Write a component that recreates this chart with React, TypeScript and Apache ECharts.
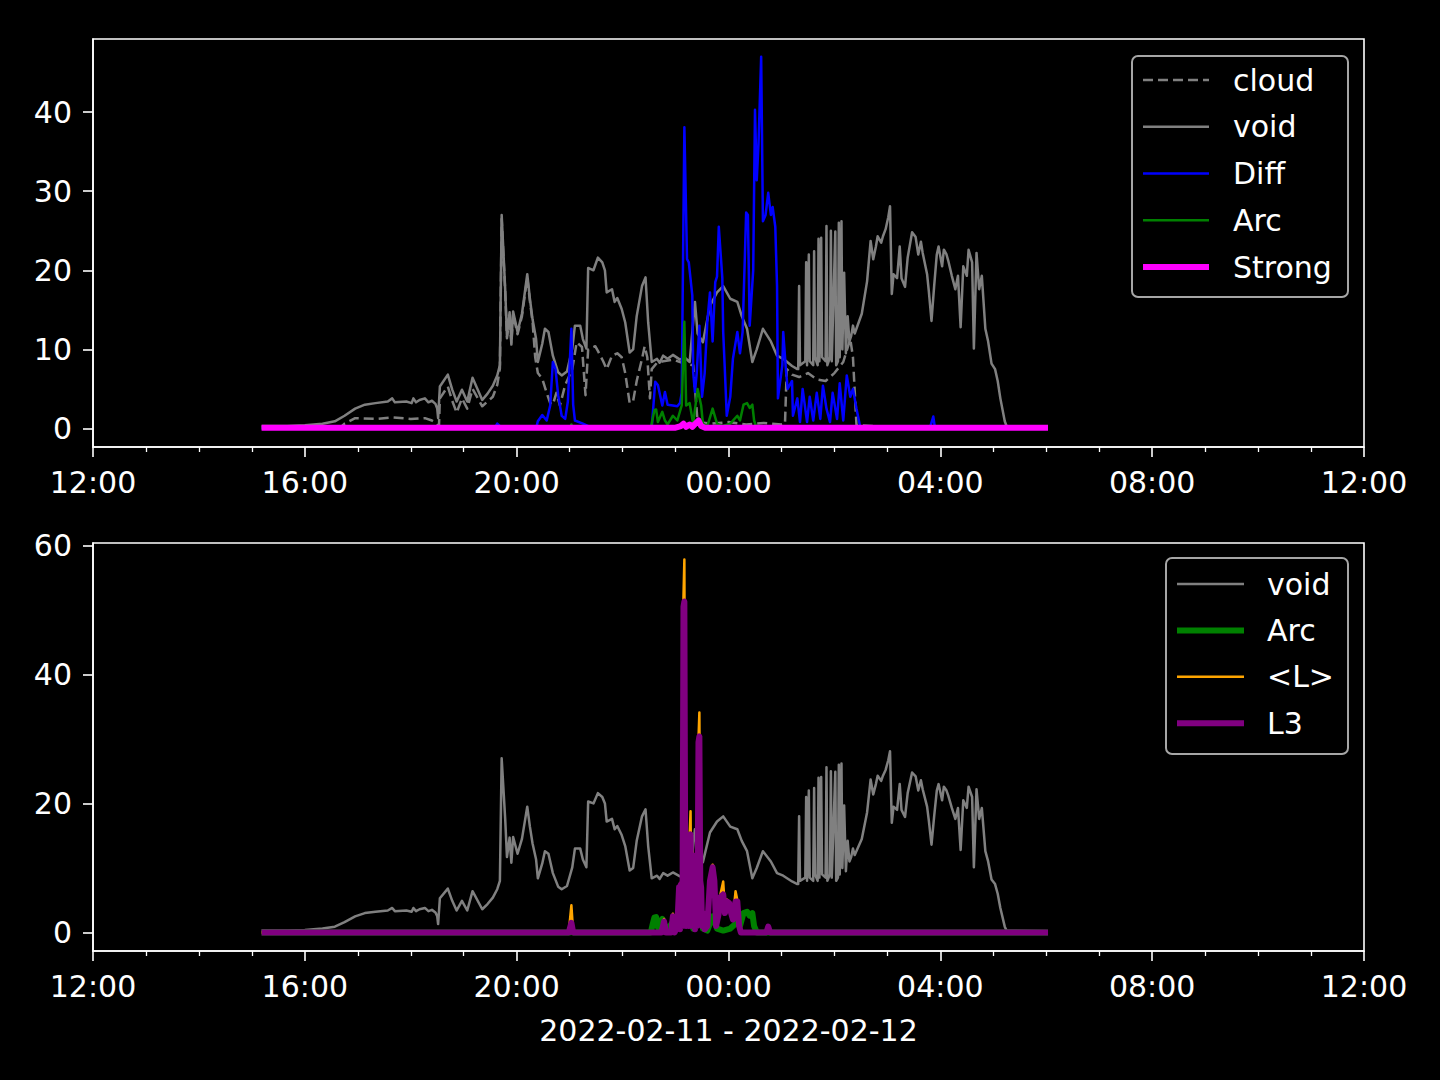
import React, { useEffect, useRef } from "react";
import * as echarts from "echarts";

// ---- data (clock times from 12:00 on 2022-02-11 to 12:00 on 2022-02-12) ----
const xTickLabels = ["12:00", "16:00", "20:00", "00:00", "04:00", "08:00", "12:00"];
const topYTicks = [0, 10, 20, 30, 40];
const bottomYTicks = [0, 20, 40, 60];
const xAxisTitle = "2022-02-11 - 2022-02-12";

type Pt = [string, number];

const voidData: Pt[] = [
  ["15:11",0.3],["15:40",0.3],["16:00",0.4],["16:20",0.6],["16:34",0.9],["16:45",1.6],["16:57",2.5],["17:08",3.0],
  ["17:20",3.2],["17:34",3.4],["17:39",3.8],["17:42",3.3],["17:55",3.4],["18:01",3.2],["18:03",3.8],["18:06",3.3],
  ["18:10",3.6],["18:16",3.8],["18:20",3.3],["18:24",3.5],["18:28",3.1],["18:30",2.5],["18:31",1.3],["18:33",5.3],
  ["18:42",6.8],["18:47",4.9],["18:52",3.4],["18:58",4.9],["19:04",3.4],["19:10",6.4],["19:21",3.6],["19:27",4.4],
  ["19:33",5.4],["19:38",6.7],["19:41",8.0],["19:43",27.0],["19:47",17.6],["19:49",11.7],["19:52",14.7],["19:54",10.8],
  ["19:56",14.8],["20:01",12.2],["20:06",14.5],["20:12",19.5],["20:15",16.4],["20:18",13.8],["20:22",11.3],["20:24",8.4],
  ["20:29",10.7],["20:32",12.6],["20:36",12.2],["20:41",9.2],["20:47",7.1],["20:51",6.7],["20:57",7.2],["21:03",10.1],
  ["21:06",13.0],["21:12",13.0],["21:15",11.3],["21:19",10.1],["21:21",20.3],["21:27",20.0],["21:32",21.6],["21:37",21.0],
  ["21:40",20.0],["21:42",17.2],["21:48",17.6],["21:51",16.0],["21:54",16.5],["21:59",15.1],["22:03",13.4],["22:08",9.6],
  ["22:12",10.0],["22:16",14.2],["22:22",18.0],["22:26",19.1],["22:29",13.4],["22:33",8.4],["22:39",8.8],["22:42",8.3],
  ["22:46",9.2],["22:51",8.8],["22:57",9.3],["23:05",8.7],["23:10",9.0],["23:16",8.4],["23:22",16.0],["23:25",12.0],
  ["23:31",10.9],["23:39",15.5],["23:47",17.2],["23:54",18.0],["00:02",16.4],["00:10",16.0],["00:15",14.2],["00:21",12.6],
  ["00:27",8.4],["00:32",10.0],["00:39",12.6],["00:48",11.0],["00:55",9.2],["01:02",8.8],["01:12",7.9],["01:18",7.5],
  ["01:19",7.5],["01:20",18.0],["01:21",8.0],["01:27",8.5],["01:28",21.0],["01:29",8.0],["01:31",22.0],["01:32",8.5],
  ["01:36",8.0],["01:37",22.4],["01:38",9.0],["01:41",8.0],["01:42",24.0],["01:43",8.5],["01:45",24.1],["01:46",9.0],
  ["01:50",8.5],["01:51",25.6],["01:52",8.0],["01:55",9.0],["01:56",25.0],["01:57",8.5],["02:01",24.9],["02:02",8.0],
  ["02:04",8.5],["02:05",26.0],["02:06",9.0],["02:08",26.2],["02:09",10.0],["02:11",19.7],["02:13",9.5],["02:15",14.2],
  ["02:17",11.0],["02:19",11.7],["02:21",13.0],["02:23",12.0],["02:31",14.5],["02:37",18.6],["02:41",23.7],["02:44",21.4],
  ["02:47",23.0],["02:49",24.3],["02:53",23.5],["02:55",24.3],["02:58",25.2],["03:01",26.7],["03:03",28.1],["03:05",17.0],
  ["03:07",19.5],["03:11",19.0],["03:14",23.0],["03:16",19.0],["03:20",17.9],["03:23",21.6],["03:28",24.8],["03:32",24.2],
  ["03:35",22.0],["03:38",23.6],["03:40",22.2],["03:45",19.5],["03:47",17.3],["03:50",13.6],["03:53",18.0],["03:56",22.0],
  ["03:58",23.0],["04:02",20.5],["04:04",22.6],["04:07",22.0],["04:09",21.2],["04:13",19.3],["04:17",17.6],["04:20",19.3],
  ["04:23",12.8],["04:26",20.5],["04:30",19.3],["04:32",22.6],["04:36",21.0],["04:38",10.1],["04:41",22.2],["04:44",17.6],
  ["04:47",19.3],["04:51",12.6],["04:54",11.1],["04:58",8.2],["05:02",7.5],["05:05",6.0],["05:08",3.8],["05:13",0.9],
  ["05:15",0.3],["06:02",0.2],
];

const cloudData: Pt[] = [
  ["15:11",0.1],["16:40",0.1],["16:45",0.6],["16:57",1.3],["17:20",1.2],["17:40",1.4],["18:00",1.2],["18:16",1.3],
  ["18:24",1.0],["18:30",0.6],["18:32",0.3],["18:33",3.8],["18:42",5.3],["18:47",3.5],["18:52",2.0],["18:58",3.8],
  ["19:04",2.5],["19:10",5.0],["19:21",2.8],["19:33",4.0],["19:38",5.5],["19:41",7.6],["19:43",26.5],["19:47",17.3],
  ["19:49",11.4],["19:52",14.3],["19:54",10.6],["19:56",14.5],["20:01",11.9],["20:06",14.2],["20:12",19.1],["20:15",16.1],
  ["20:18",13.5],["20:21",9.0],["20:24",7.0],["20:29",6.3],["20:34",4.5],["20:38",3.2],["20:41",3.0],["20:45",4.5],
  ["20:49",2.9],["20:55",5.5],["21:03",7.5],["21:08",10.9],["21:14",10.3],["21:18",4.2],["21:21",10.0],["21:29",10.4],
  ["21:32",9.8],["21:38",8.5],["21:42",7.5],["21:48",9.2],["21:54",9.5],["21:59",9.0],["22:03",7.0],["22:08",3.2],
  ["22:12",3.5],["22:16",6.0],["22:22",8.8],["22:25",10.4],["22:28",9.0],["22:31",3.8],["22:33",7.5],["22:39",8.3],
  ["22:46",8.5],["22:57",8.7],["23:10",8.2],["23:20",8.0],["23:25",0.8],["23:40",0.6],["00:00",0.8],["00:20",0.5],
  ["00:40",0.7],["01:00",0.5],["01:04",0.6],["01:06",7.5],["01:12",6.8],["01:20",6.5],["01:30",7.0],["01:40",6.2],
  ["01:50",6.0],["02:00",7.0],["02:10",8.4],["02:18",11.3],["02:21",9.0],["02:25",0.4],["03:00",0.2],["06:02",0.1],
];

const diffData: Pt[] = [
  ["15:11",0],["19:35",0],["19:38",0.6],["19:42",0.2],["19:45",0],["20:22",0],["20:24",0.9],["20:29",1.7],
  ["20:34",1.0],["20:38",2.9],["20:41",8.4],["20:44",7.5],["20:47",4.2],["20:51",1.6],["20:55",1.2],["20:58",3.4],
  ["21:02",12.6],["21:04",3.0],["21:06",1.0],["21:15",0.6],["21:23",0.2],["21:30",0],["22:32",0],["22:33",0.1],
  ["22:37",5.9],["22:40",5.5],["22:45",2.9],["22:48",4.6],["22:51",3.0],["22:57",2.9],["23:02",2.8],["23:05",3.2],
  ["23:07",4.5],["23:10",38.1],["23:13",21.4],["23:15",21.0],["23:19",16.8],["23:20",7.1],["23:22",4.6],["23:24",7.0],
  ["23:27",13.0],["23:30",4.0],["23:33",7.0],["23:36",13.5],["23:39",17.2],["23:42",11.0],["23:45",18.5],["23:47",19.2],
  ["23:49",25.5],["23:53",19.0],["23:54",12.2],["23:56",7.0],["23:58",1.6],["00:02",4.0],["00:05",8.8],["00:10",12.2],
  ["00:13",9.5],["00:16",12.2],["00:20",27.3],["00:22",27.0],["00:24",13.0],["00:28",20.0],["00:30",40.3],["00:32",31.4],
  ["00:34",36.0],["00:37",47.0],["00:39",26.2],["00:42",27.0],["00:45",29.8],["00:48",27.0],["00:50",28.0],["00:53",25.5],
  ["00:55",18.0],["00:56",3.8],["01:01",8.0],["01:02",12.2],["01:05",7.5],["01:07",5.0],["01:12",6.0],["01:13",1.6],
  ["01:18",3.8],["01:21",0.8],["01:24",5.0],["01:29",0.8],["01:32",4.0],["01:36",1.0],["01:40",4.5],["01:44",1.2],
  ["01:47",5.4],["01:51",2.5],["01:55",0.8],["01:58",4.5],["02:03",1.2],["02:06",5.7],["02:10",1.0],["02:14",6.7],
  ["02:18",4.0],["02:21",5.0],["02:25",2.5],["02:29",0.3],["02:32",0],["03:48",0],["03:52",1.5],["03:54",0],["06:02",0],
];

const arcData: Pt[] = [
  ["15:11",0],["21:00",0],["21:02",0.5],["21:04",0],["22:32",0],["22:34",1.2],["22:36",2.3],["22:38",2.4],
  ["22:40",0.8],["22:45",2.1],["22:48",1.0],["22:51",0.5],["22:57",1.6],["23:02",1.0],["23:07",2.9],["23:10",13.5],
  ["23:12",2.9],["23:16",3.2],["23:20",0.6],["23:25",5.0],["23:29",2.9],["23:31",0.6],["23:36",0.3],["23:42",2.5],
  ["23:47",0.6],["23:54",0.3],["00:02",0.6],["00:10",1.6],["00:13",1.0],["00:17",3.0],["00:21",3.2],["00:24",2.6],
  ["00:27",3.0],["00:29",1.0],["00:32",0],["06:02",0],
];

const strongData: Pt[] = [
  ["15:11",0.1],["23:00",0.1],["23:06",0.3],["23:09",0.6],["23:12",0.2],["23:16",0.5],["23:19",0.2],["23:26",1.0],
  ["23:29",0.3],["23:33",0.1],["06:02",0.1],
];

const lAvgData: Pt[] = [
  ["15:11",0],["20:59",0],["21:02",4.2],["21:04",0],["22:44",0],["22:47",2.1],["22:49",0],["22:55",0],
  ["22:57",2.9],["22:59",0],["23:02",1.2],["23:03",4.3],["23:04",7.3],["23:05",0.6],["23:06",7.8],["23:07",1.1],
  ["23:08",7.9],["23:09",52.0],["23:10",57.8],["23:11",8.4],["23:12",1.1],["23:13",7.9],["23:14",10.0],["23:15",1.1],
  ["23:16",15.0],["23:17",18.8],["23:18",2.2],["23:19",12.6],["23:20",1.1],["23:21",7.4],["23:22",0.6],["23:23",8.4],
  ["23:24",1.1],["23:25",7.9],["23:26",30.0],["23:27",34.1],["23:28",8.4],["23:29",7.4],["23:30",1.1],["23:31",3.3],
  ["23:33",0.6],["23:36",1.2],["23:39",8.5],["23:42",10.5],["23:44",8.3],["23:46",1.2],["23:49",3.5],["23:51",6.0],
  ["23:54",7.9],["23:56",3.3],["23:58",5.1],["00:01",4.8],["00:03",3.3],["00:05",2.2],["00:08",6.4],["00:10",5.0],
  ["00:12",1.2],["00:14",0],["00:43",0],["00:45",1.0],["00:47",0],["06:02",0],
];

const l3Data: Pt[] = [
  ["15:11",0],["20:59",0],["21:02",1.5],["21:04",0],["22:44",0],["22:47",1.7],["22:49",0],["22:55",0],
  ["22:57",2.5],["22:59",0],["23:02",1.0],["23:03",4.0],["23:04",7.0],["23:05",0.5],["23:06",7.4],["23:07",1.0],
  ["23:08",7.5],["23:09",50.5],["23:10",51.3],["23:11",8.0],["23:12",1.0],["23:13",7.5],["23:14",9.0],["23:15",1.0],
  ["23:16",14.5],["23:17",15.2],["23:18",2.0],["23:19",12.0],["23:20",1.0],["23:21",7.0],["23:22",0.5],["23:23",8.0],
  ["23:24",1.0],["23:25",7.5],["23:26",29.5],["23:27",30.4],["23:28",8.0],["23:29",7.0],["23:30",1.0],["23:31",3.0],
  ["23:33",0.5],["23:36",1.0],["23:39",8.0],["23:42",10.1],["23:44",8.0],["23:46",1.0],["23:49",3.0],["23:51",5.5],
  ["23:54",5.9],["23:56",3.0],["23:58",4.8],["00:01",4.5],["00:03",3.0],["00:05",2.0],["00:08",4.8],["00:10",4.8],
  ["00:12",1.0],["00:14",0],["00:43",0],["00:45",0.9],["00:47",0],["06:02",0],
];

// ---- helpers ----
const toMin = (s: string) => {
  const [h, m] = s.split(":").map(Number);
  let v = h * 60 + m - 720;
  if (v < 0) v += 1440;
  return v;
};
const pts = (d: Pt[]) => d.map(([t, v]) => [toMin(t), v]);

const WHITE = "#ffffff";
const FONT = "DejaVu Sans";

export default function App() {
  const ref = useRef<HTMLDivElement>(null);
  useEffect(() => {
    if (!ref.current) return;
    const chart = echarts.init(ref.current, undefined, { renderer: "svg" });

    const xAxisBase = (gridIndex: number, withName: boolean) => ({
      type: "value",
      gridIndex,
      min: 0,
      max: 1440,
      interval: 240,
      axisLine: { show: true, onZero: false, lineStyle: { color: WHITE, width: 1.6 } },
      axisTick: { show: true, length: 10, lineStyle: { color: WHITE, width: 1.6 } },
      minorTick: { show: true, splitNumber: 4, length: 5, lineStyle: { color: WHITE, width: 1.3 } },
      splitLine: { show: false },
      axisLabel: {
        color: WHITE,
        fontFamily: FONT,
        fontSize: 30,
        margin: 20,
        formatter: (v: number) => xTickLabels[Math.round(v / 240)] ?? "",
      },
      name: withName ? xAxisTitle : "",
      nameLocation: "middle",
      nameGap: 64,
      nameTextStyle: { color: WHITE, fontFamily: FONT, fontSize: 30 },
    });

    const yAxisBase = (gridIndex: number, min: number, max: number, ticks: number[]) => ({
      type: "value",
      gridIndex,
      min,
      max,
      axisLine: { show: true, onZero: false, lineStyle: { color: WHITE, width: 1.6 } },
      axisTick: { show: true, length: 10, customValues: ticks, lineStyle: { color: WHITE, width: 1.6 } },
      splitLine: { show: false },
      axisLabel: {
        color: WHITE,
        fontFamily: FONT,
        fontSize: 30,
        margin: 21,
        customValues: ticks,
        formatter: (v: number) => String(Math.round(v)),
      },
    });

    const line = (name: string, xi: number, data: number[][], color: string, width: number, type: any = "solid") => ({
      name,
      type: "line",
      xAxisIndex: xi,
      yAxisIndex: xi,
      data,
      symbol: "none",
      showSymbol: false,
      lineStyle: { color, width, type, join: "round", cap: "butt" },
      itemStyle: { color },
      emphasis: { disabled: true },
    });

    const legendTop = [
      { label: "cloud", color: "#808080", w: 2.5, dash: [10, 5] },
      { label: "void", color: "#808080", w: 2.5 },
      { label: "Diff", color: "#0000ff", w: 2.5 },
      { label: "Arc", color: "#008000", w: 2.5 },
      { label: "Strong", color: "#ff00ff", w: 6 },
    ];
    const legendBottom = [
      { label: "void", color: "#808080", w: 2.5 },
      { label: "Arc", color: "#008000", w: 6 },
      { label: "<L>", color: "#ffa500", w: 2.5 },
      { label: "L3", color: "#800080", w: 6 },
    ];

    const legendGroup = (items: any[], bx: number, by: number, bw: number, bh: number, y0: number, step: number, lx0: number, lx1: number, tx: number) => {
      const els: any[] = [
        {
          type: "rect",
          shape: { x: bx, y: by, width: bw, height: bh, r: 6 },
          style: { fill: "#000000", stroke: "#a6a6a6", lineWidth: 2 },
          z: 100,
        },
      ];
      items.forEach((it, i) => {
        const y = y0 + i * step;
        els.push({
          type: "line",
          shape: { x1: lx0, y1: y, x2: lx1, y2: y },
          style: { stroke: it.color, lineWidth: it.w, lineDash: it.dash ?? null },
          z: 101,
        });
        els.push({
          type: "text",
          x: tx,
          y,
          style: { text: it.label, fill: WHITE, font: `30px ${FONT}`, verticalAlign: "middle", align: "left" },
          z: 101,
        });
      });
      return els;
    };

    chart.setOption({
      animation: false,
      backgroundColor: "#000000",
      textStyle: { fontFamily: FONT },
      grid: [
        { left: 93, top: 39, width: 1271, height: 408, show: true, borderColor: WHITE, borderWidth: 1.6, backgroundColor: "transparent" },
        { left: 93, top: 543, width: 1271, height: 408, show: true, borderColor: WHITE, borderWidth: 1.6, backgroundColor: "transparent" },
      ],
      xAxis: [xAxisBase(0, false), xAxisBase(1, true)],
      yAxis: [yAxisBase(0, -2.35, 49.25, topYTicks), yAxisBase(1, -2.875, 60.375, bottomYTicks)],
      series: [
        line("cloud", 0, pts(cloudData), "#808080", 2.5, [10, 5]),
        line("void", 0, pts(voidData), "#808080", 2.5),
        line("Diff", 0, pts(diffData), "#0000ff", 2.5),
        line("Arc", 0, pts(arcData), "#008000", 2.5),
        line("Strong", 0, pts(strongData), "#ff00ff", 6),
        line("void", 1, pts(voidData), "#808080", 2.5),
        line("Arc", 1, pts(arcData), "#008000", 6),
        line("<L>", 1, pts(lAvgData), "#ffa500", 2.5),
        line("L3", 1, pts(l3Data), "#800080", 6),
      ],
      graphic: [
        ...legendGroup(legendTop, 1132, 56, 216, 241, 80, 46.75, 1143, 1209, 1233),
        ...legendGroup(legendBottom, 1166, 558, 182, 196, 584, 46.4, 1177, 1244, 1267),
      ],
    });

    return () => chart.dispose();
  }, []);

  return (
    <div ref={ref} style={{ position: "absolute", left: 0, top: 0, width: 1440, height: 1080, background: "#000" }} />
  );
}
